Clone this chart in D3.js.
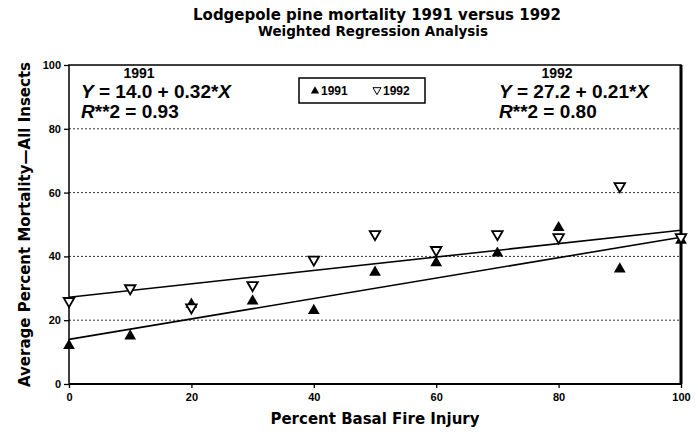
<!DOCTYPE html>
<html>
<head>
<meta charset="utf-8">
<script src="https://cdn.jsdelivr.net/npm/d3@7"></script>
<style>
  body { margin: 0; background: #fff; }
  svg { display: block; }
  text { font-family: "Liberation Sans", Arial, sans-serif; fill: #000; }
  .heavy { font-family: "DejaVu Sans", sans-serif; font-weight: bold; }
</style>
</head>
<body>
<div id="chart"></div>
<script>
// data
const injury = [0, 10, 20, 30, 40, 50, 60, 70, 80, 90, 100]
const mort1991 = [12, 15, 25, 26, 23, 35, 38, 41, 49, 36, 45]
const mort1992 = [26, 30, 24, 31, 39, 47, 42, 47, 46, 62, 46]
const years = ["1991", "1992"]
const intercepts = [14.0, 27.2]
const slopes = [0.32, 0.21]
const rsq = ["0.93", "0.80"]
const xTicks = [0, 20, 40, 60, 80, 100]
const yTicks = [0, 20, 40, 60, 80, 100]

const width = 698, height = 434
const margin = {top: 65, right: 17, bottom: 50, left: 69}

const svg = d3.select("#chart").append("svg")
    .attr("width", width).attr("height", height)

const x = d3.scaleLinear().domain([0, 100]).range([margin.left, width - margin.right])
const y = d3.scaleLinear().domain([0, 100]).range([height - margin.bottom, margin.top])

// titles
svg.append("text").attr("class", "heavy").attr("x", 377).attr("y", 20)
    .attr("text-anchor", "middle").attr("font-size", 15)
    .text("Lodgepole pine mortality 1991 versus 1992")
svg.append("text").attr("class", "heavy").attr("x", 373).attr("y", 36)
    .attr("text-anchor", "middle").attr("font-size", 13.5)
    .text("Weighted Regression Analysis")

// grid
svg.append("g").selectAll("line")
    .data(yTicks.filter(d => d > 0 && d < 100))
    .join("line")
    .attr("x1", x(0)).attr("x2", x(100))
    .attr("y1", d => y(d)).attr("y2", d => y(d))
    .attr("stroke", "#333").attr("stroke-width", 1)
    .attr("stroke-dasharray", "2,2")

// axes
const xAxis = svg.append("g")
    .attr("transform", `translate(0,${y(0)})`)
    .call(d3.axisBottom(x).tickValues(xTicks).tickSize(4).tickPadding(5))
const yAxis = svg.append("g")
    .attr("transform", `translate(${x(0)},0)`)
    .call(d3.axisLeft(y).tickValues(yTicks).tickSize(5).tickPadding(3))
for (const ax of [xAxis, yAxis]) {
    ax.select(".domain").remove()
    ax.selectAll("text").attr("font-size", 11).attr("font-weight", "bold")
        .attr("font-family", "DejaVu Sans, sans-serif")
    ax.selectAll("line").attr("stroke", "#000").attr("stroke-width", 1.3)
}

// frame
svg.append("rect")
    .attr("x", x(0)).attr("y", y(100))
    .attr("width", x(100) - x(0)).attr("height", y(0) - y(100))
    .attr("fill", "none").attr("stroke", "#000").attr("stroke-width", 1.5)
svg.append("line")
    .attr("x1", x(100)).attr("x2", x(100)).attr("y1", y(100)).attr("y2", y(0))
    .attr("stroke", "#000").attr("stroke-width", 3)
svg.append("line")
    .attr("x1", x(0)).attr("x2", x(100)).attr("y1", y(0)).attr("y2", y(0))
    .attr("stroke", "#000").attr("stroke-width", 2)

// regression lines
intercepts.forEach((a, i) => {
    svg.append("line")
        .attr("x1", x(0)).attr("y1", y(a))
        .attr("x2", x(100)).attr("y2", y(a + slopes[i] * 100))
        .attr("stroke", "#000").attr("stroke-width", 1.6)
})

// points
svg.append("g").selectAll("path")
    .data(injury.map((d, i) => [d, mort1991[i]]))
    .join("path")
    .attr("d", d3.symbol().type(d3.symbolTriangle).size(60))
    .attr("transform", d => `translate(${x(d[0])},${y(d[1])})`)
    .attr("fill", "#000")

svg.append("g").selectAll("path")
    .data(injury.map((d, i) => [d, mort1992[i]]))
    .join("path")
    .attr("d", d3.symbol().type(d3.symbolTriangle).size(48))
    .attr("transform", d => `translate(${x(d[0])},${y(d[1])}) rotate(180)`)
    .attr("fill", "#fff").attr("stroke", "#000").attr("stroke-width", 1.8)

// regression annotations
const annX = [81, 499]
years.forEach((yr, i) => {
    const g = svg.append("g").attr("transform", `translate(${annX[i]},0)`)
    g.append("text").attr("x", 58).attr("y", 78)
        .attr("text-anchor", "middle").attr("font-size", 14).attr("font-weight", "bold")
        .text(yr)
    const eq = g.append("text").attr("x", 0).attr("y", 98)
        .attr("font-size", 19).attr("font-weight", "bold")
    eq.append("tspan").attr("font-style", "italic").text("Y")
    eq.append("tspan").text(` = ${intercepts[i].toFixed(1)} + ${slopes[i].toFixed(2)}*`)
    eq.append("tspan").attr("font-style", "italic").text("X")
    const r = g.append("text").attr("x", 0).attr("y", 118)
        .attr("font-size", 19).attr("font-weight", "bold")
    r.append("tspan").attr("font-style", "italic").text("R")
    r.append("tspan").text(`**2 = ${rsq[i]}`)
})

// legend
const leg = svg.append("g").attr("transform", "translate(299,78)")
leg.append("rect").attr("width", 126).attr("height", 25)
    .attr("fill", "#fff").attr("stroke", "#000").attr("stroke-width", 1.5)
leg.append("path").attr("d", d3.symbol().type(d3.symbolTriangle).size(30))
    .attr("transform", "translate(16,13)").attr("fill", "#000")
leg.append("text").attr("x", 22).attr("y", 17).attr("font-size", 12).attr("font-weight", "bold").text(years[0])
leg.append("path").attr("d", d3.symbol().type(d3.symbolTriangle).size(28))
    .attr("transform", "translate(78,12) rotate(180)").attr("fill", "#fff").attr("stroke", "#000")
leg.append("text").attr("x", 84).attr("y", 17).attr("font-size", 12).attr("font-weight", "bold").text(years[1])

// axis titles
svg.append("text").attr("class", "heavy").attr("x", 375).attr("y", 424)
    .attr("text-anchor", "middle").attr("font-size", 15)
    .text("Percent Basal Fire Injury")
svg.append("text").attr("class", "heavy")
    .attr("transform", `translate(30,${(y(0) + y(100)) / 2}) rotate(-90)`)
    .attr("text-anchor", "middle").attr("font-size", 15)
    .text("Average Percent Mortality—All Insects")
</script>
</body>
</html>
